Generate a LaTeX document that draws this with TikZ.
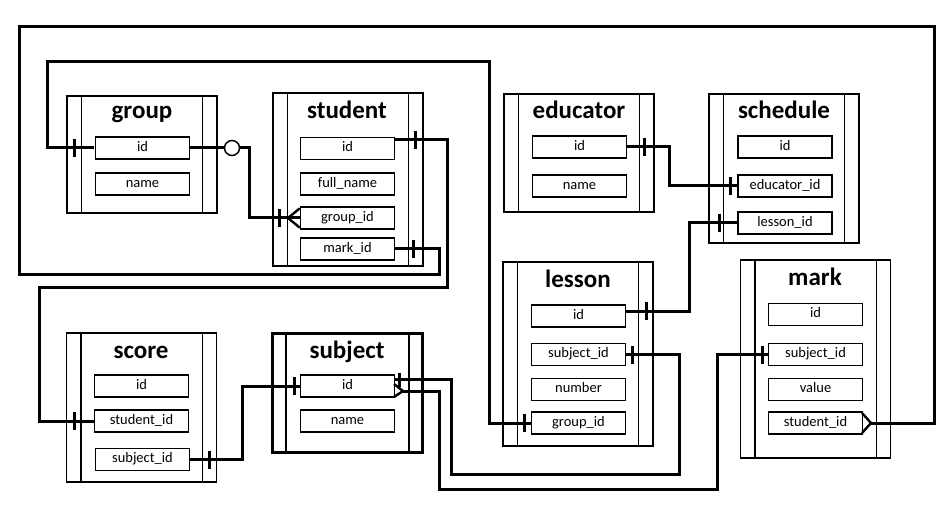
\documentclass[tikz,border=0pt]{standalone}
\usepackage{fontspec}
\setmainfont{Carlito}
\usetikzlibrary{calc}
\newcommand\innerlines[2]{%
  \draw[line width=#2] ([xshift=15pt]#1.north west) -- ([xshift=15pt]#1.south west)
    ([xshift=-15pt]#1.north east) -- ([xshift=-15pt]#1.south east);}
\begin{document}
\begin{tikzpicture}[x=1pt,y=-1pt,
  tbl/.style={draw, line width=1.1pt, minimum width=150pt, inner sep=0pt},
  fld/.style={draw, fill=white, line width=1.4pt, minimum width=94pt, minimum height=22pt, inner sep=0pt,
    font=\fontsize{14.5}{16}\selectfont, text height=9.5pt, text depth=3pt},
  ttl/.style={font=\fontsize{25}{28}\selectfont\bfseries, anchor=base, inner sep=0pt},
  conn/.style={line width=3pt},
  bar/.style={line width=3pt},
  crow/.style={line width=2.4pt}]
\useasboundingbox (0,0) rectangle (952,526);

% tables
\node[tbl, minimum height=117pt] (group) at (142,154.5) {};
\node[tbl, minimum height=173pt] (student) at (348,179.5) {};
\node[tbl, minimum height=118pt] (educator) at (579,153) {};
\node[tbl, minimum height=149pt] (schedule) at (784,168.5) {};
\node[tbl, minimum height=184pt] (lesson) at (578,354) {};
\node[tbl, minimum height=198pt] (mark) at (815.5,359) {};
\node[tbl, minimum height=149pt] (score) at (141.5,407.5) {};
\node[tbl, line width=3pt, minimum height=119pt] (subject) at (347.5,392.5) {};
\innerlines{group}{1.1pt}
\innerlines{student}{1.1pt}
\innerlines{educator}{1.1pt}
\innerlines{schedule}{1.1pt}
\innerlines{lesson}{1.1pt}
\innerlines{mark}{1.1pt}
\innerlines{score}{1.1pt}
\innerlines{subject}{2.4pt}

% titles
\node[ttl] (t-group) at (142,119) {group};
\node[ttl] (t-student) at (347,119) {student};
\node[ttl] (t-educator) at (579,119) {educator};
\node[ttl] (t-schedule) at (784,119) {schedule};
\node[ttl] (t-lesson) at (578,288) {lesson};
\node[ttl] (t-mark) at (815,286) {mark};
\node[ttl] (t-score) at (141,358) {score};
\node[ttl] (t-subject) at (347,358) {subject};

% connectors
\node[circle, draw, fill=white, line width=1.5pt, minimum size=15pt, inner sep=0pt] (opt) at (232,148) {};

\draw[conn] (94,148) -- (47,148) |- (489,62) |- (531,423);
\draw[conn] (189,148) -- (opt.west);
\draw[conn] (opt.east) -- (249,148) |- (300,218);
\draw[conn] (394,140) -- (447,140) |- (39,288) |- (94,421);
\draw[conn] (394,249) -- (439,249) |- (19,275) |- (934,26.5) |- (871,423);
\draw[conn] (190,459.5) -- (242,459.5) |- (300,386);
\draw[conn] (394,379) -- (451,379) |- (679,474) |- (626,354.5);
\draw[conn] (403,391) -- (439,391) |- (717,489) |- (768,354.5);
\draw[conn] (627,147) -- (669,147) |- (738,186);
\draw[conn] (738,223) -- (689,223) |- (626,311);

% fields
\node[fld] (g-id) at (142.5,148) {id};
\node[fld] (g-name) at (142.5,184) {name};
\node[fld] (s-id) at (347.5,148.5) {id};
\node[fld] (s-name) at (347.5,184) {full\_name};
\node[fld] (s-grp) at (347.5,218) {group\_id};
\node[fld] (s-mark) at (347.5,249) {mark\_id};
\node[fld] (e-id) at (579.5,147) {id};
\node[fld] (e-name) at (579.5,186) {name};
\node[fld] (h-id) at (785,147) {id};
\node[fld] (h-edu) at (785,186) {educator\_id};
\node[fld] (h-les) at (785,223) {lesson\_id};
\node[fld] (l-id) at (578.5,316) {id};
\node[fld] (l-sub) at (578.5,354.5) {subject\_id};
\node[fld] (l-num) at (578.5,389.5) {number};
\node[fld] (l-grp) at (578.5,423) {group\_id};
\node[fld] (m-id) at (815.5,314.5) {id};
\node[fld] (m-sub) at (815.5,354.5) {subject\_id};
\node[fld] (m-val) at (815.5,389.5) {value};
\node[fld] (m-stu) at (815.5,423) {student\_id};
\node[fld] (c-id) at (141.5,386) {id};
\node[fld] (c-stu) at (141.5,421) {student\_id};
\node[fld] (c-sub) at (142.5,459.5) {subject\_id};
\node[fld] (b-id) at (347.5,386) {id};
\node[fld] (b-name) at (347.5,421) {name};

% cardinality marks
\draw[bar] (74,139) -- ++(0,18);
\draw[bar] (524,414) -- ++(0,18);
\draw[bar] (279,209) -- ++(0,18);
\draw[crow] (s-grp.north west) ++(0,2) -- (288,218) -- ($(s-grp.south west)+(0,-2)$);
\draw[bar] (415,131) -- ++(0,18);
\draw[bar] (74,412) -- ++(0,18);
\draw[bar] (413,240) -- ++(0,18);
\draw[crow] (862,413) -- (871,423) -- (862,433);
\draw[bar] (209,450.5) -- ++(0,18);
\draw[bar] (294,377) -- ++(0,18);
\draw[bar] (399,373) -- (399,387);
\draw[bar] (632,345.5) -- ++(0,18);
\draw[crow] (394,384) -- (403,391) -- (394,397);
\draw[bar] (762,345.5) -- ++(0,18);
\draw[bar] (644,138) -- ++(0,18);
\draw[bar] (730,177) -- ++(0,18);
\draw[bar] (719,214) -- ++(0,18);
\draw[bar] (646,302) -- ++(0,18);
\end{tikzpicture}
\end{document}
